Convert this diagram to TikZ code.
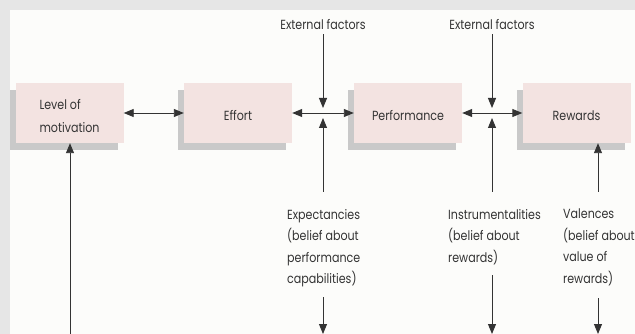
\documentclass[tikz,border=0pt]{standalone}
\usepackage{fontspec}
\setmainfont{Poppins}[FakeStretch=0.84]
\usetikzlibrary{arrows.meta,shadows}
\definecolor{pagegray}{HTML}{E6E6E6}
\definecolor{panel}{HTML}{FCFCFA}
\definecolor{boxfill}{HTML}{F3E3E1}
\definecolor{shadowgray}{HTML}{C9C9C9}
\definecolor{ink}{HTML}{333333}
\begin{document}
\begin{tikzpicture}[x=1pt,y=-1pt,
  txtfont/.style={font=\fontsize{13.2}{21.5}\selectfont, text=ink},
  box/.style={txtfont, fill=boxfill, minimum width=108pt, minimum height=60pt,
    inner sep=0pt, align=left, text height=18pt, text depth=3pt,
    drop shadow={shadow xshift=-6pt, shadow yshift=-7pt, fill=shadowgray, opacity=1}},
  lbl/.style={txtfont, align=left, inner sep=0pt, anchor=north west},
  toplbl/.style={txtfont, inner sep=0pt},
  tip/.style={-{Triangle[length=10pt,width=8pt]}, line width=0.9pt, draw=ink},
  twotip/.style={{Triangle[length=10pt,width=8pt]}-{Triangle[length=10pt,width=8pt]}, line width=0.9pt, draw=ink}]
  % page and panel
  \fill[pagegray] (0,0) rectangle (635,334);
  \fill[panel] (10,10) rectangle (635,334);
  \useasboundingbox (0,0) rectangle (635,334);

  % main chain
  \node[box, text height=42pt] (level) at (69.5,113) {Level of\\[1pt]motivation};
  \node[box] (effort) at (238,113) {Effort};
  \node[box] (perf) at (408,113) {Performance};
  \node[box] (rew) at (576.5,113) {Rewards};

  \coordinate (j1) at (323,113);
  \coordinate (j2) at (492,113);

  \draw[twotip] (level.east) -- (effort.west);
  \draw[twotip] (effort.east) -- (perf.west);
  \draw[twotip] (perf.east) -- (rew.west);

  % external factors
  \node[toplbl] (ext1) at (323,25) {External factors};
  \node[toplbl] (ext2) at (492,25) {External factors};
  \draw[tip, shorten >=5pt] (ext1.south) ++(0,4) -- (j1);
  \draw[tip, shorten >=5pt] (ext2.south) ++(0,4) -- (j2);

  % beliefs
  \node[lbl] (exp) at (287,209) {Expectancies\\(belief about\\performance\\capabilities)};
  \node[lbl] (ins) at (448,209) {Instrumentalities\\(belief about\\rewards)};
  \node[lbl] (val) at (563,209) {Valences\\(belief about\\value of\\rewards)};

  \coordinate (expup) at (323,192);
  \coordinate (insup) at (492,192);
  \coordinate (valup) at (598,192);
  \draw[tip, shorten >=5pt] (expup) -- (j1);
  \draw[tip, shorten >=5pt] (insup) -- (j2);
  \draw[tip] (valup) -- (valup |- rew.south);

  \coordinate (expdn) at (323,297);
  \coordinate (insdn) at (492,275);
  \coordinate (valdn) at (598,298);
  \coordinate (expend) at (323,334);
  \coordinate (insend) at (492,334);
  \coordinate (valend) at (598,334);
  \draw[tip] (expdn) -- (expend);
  \draw[tip] (insdn) -- (insend);
  \draw[tip] (valdn) -- (valend);

  % feedback into motivation
  \coordinate (fb) at (70,334);
  \draw[tip] (fb) -- (fb |- level.south);
\end{tikzpicture}
\end{document}
